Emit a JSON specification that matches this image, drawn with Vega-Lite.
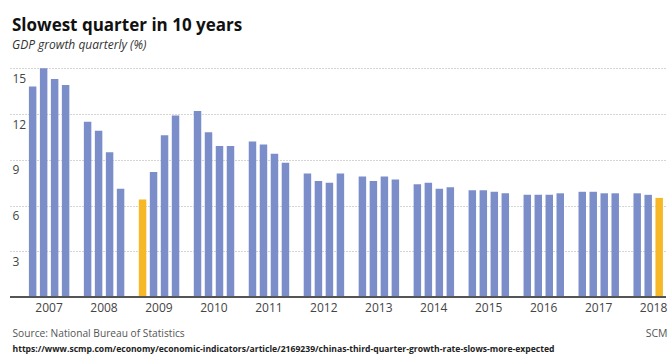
{
  "$schema": "https://vega.github.io/schema/vega-lite/v6.json",
  "autosize": {"type": "none"},
  "padding": {"left": 10, "top": 62, "right": 2, "bottom": 58},
  "width": 656,
  "height": 235,
  "background": "white",
  "config": {"view": {"stroke": null}, "font": "Open Sans"},
  "title": {
    "text": "Slowest quarter in 10 years",
    "subtitle": "GDP growth quarterly (%)",
    "anchor": "start",
    "frame": "group",
    "dx": 2,
    "offset": 10,
    "font": "Open Sans",
    "fontSize": 17,
    "fontWeight": "bold",
    "color": "#111",
    "subtitleFont": "Open Sans",
    "subtitleFontSize": 12,
    "subtitleFontStyle": "italic",
    "subtitleColor": "#333",
    "subtitlePadding": 5
  },
  "data": {
    "values": [
      {"q": "2007 Q1", "gdp": 13.8, "slowest": "no"},
      {"q": "2007 Q2", "gdp": 15.0, "slowest": "no"},
      {"q": "2007 Q3", "gdp": 14.3, "slowest": "no"},
      {"q": "2007 Q4", "gdp": 13.9, "slowest": "no"},
      {"q": "2008 Q1", "gdp": 11.5, "slowest": "no"},
      {"q": "2008 Q2", "gdp": 10.9, "slowest": "no"},
      {"q": "2008 Q3", "gdp": 9.5, "slowest": "no"},
      {"q": "2008 Q4", "gdp": 7.1, "slowest": "no"},
      {"q": "2009 Q1", "gdp": 6.4, "slowest": "yes"},
      {"q": "2009 Q2", "gdp": 8.2, "slowest": "no"},
      {"q": "2009 Q3", "gdp": 10.6, "slowest": "no"},
      {"q": "2009 Q4", "gdp": 11.9, "slowest": "no"},
      {"q": "2010 Q1", "gdp": 12.2, "slowest": "no"},
      {"q": "2010 Q2", "gdp": 10.8, "slowest": "no"},
      {"q": "2010 Q3", "gdp": 9.9, "slowest": "no"},
      {"q": "2010 Q4", "gdp": 9.9, "slowest": "no"},
      {"q": "2011 Q1", "gdp": 10.2, "slowest": "no"},
      {"q": "2011 Q2", "gdp": 10.0, "slowest": "no"},
      {"q": "2011 Q3", "gdp": 9.4, "slowest": "no"},
      {"q": "2011 Q4", "gdp": 8.8, "slowest": "no"},
      {"q": "2012 Q1", "gdp": 8.1, "slowest": "no"},
      {"q": "2012 Q2", "gdp": 7.6, "slowest": "no"},
      {"q": "2012 Q3", "gdp": 7.5, "slowest": "no"},
      {"q": "2012 Q4", "gdp": 8.1, "slowest": "no"},
      {"q": "2013 Q1", "gdp": 7.9, "slowest": "no"},
      {"q": "2013 Q2", "gdp": 7.6, "slowest": "no"},
      {"q": "2013 Q3", "gdp": 7.9, "slowest": "no"},
      {"q": "2013 Q4", "gdp": 7.7, "slowest": "no"},
      {"q": "2014 Q1", "gdp": 7.4, "slowest": "no"},
      {"q": "2014 Q2", "gdp": 7.5, "slowest": "no"},
      {"q": "2014 Q3", "gdp": 7.1, "slowest": "no"},
      {"q": "2014 Q4", "gdp": 7.2, "slowest": "no"},
      {"q": "2015 Q1", "gdp": 7.0, "slowest": "no"},
      {"q": "2015 Q2", "gdp": 7.0, "slowest": "no"},
      {"q": "2015 Q3", "gdp": 6.9, "slowest": "no"},
      {"q": "2015 Q4", "gdp": 6.8, "slowest": "no"},
      {"q": "2016 Q1", "gdp": 6.7, "slowest": "no"},
      {"q": "2016 Q2", "gdp": 6.7, "slowest": "no"},
      {"q": "2016 Q3", "gdp": 6.7, "slowest": "no"},
      {"q": "2016 Q4", "gdp": 6.8, "slowest": "no"},
      {"q": "2017 Q1", "gdp": 6.9, "slowest": "no"},
      {"q": "2017 Q2", "gdp": 6.9, "slowest": "no"},
      {"q": "2017 Q3", "gdp": 6.8, "slowest": "no"},
      {"q": "2017 Q4", "gdp": 6.8, "slowest": "no"},
      {"q": "2018 Q1", "gdp": 6.8, "slowest": "no"},
      {"q": "2018 Q2", "gdp": 6.7, "slowest": "no"},
      {"q": "2018 Q3", "gdp": 6.5, "slowest": "yes"}
    ]
  },
  "layer": [
    {
      "mark": {"type": "bar"},
      "encoding": {
        "x": {
          "field": "q",
          "type": "ordinal",
          "sort": null,
          "scale": {
            "domain": [
              "2007 Q1", "2007 Q2", "2007 Q3", "2007 Q4", "2007 -",
              "2008 Q1", "2008 Q2", "2008 Q3", "2008 Q4", "2008 -",
              "2009 Q1", "2009 Q2", "2009 Q3", "2009 Q4", "2009 -",
              "2010 Q1", "2010 Q2", "2010 Q3", "2010 Q4", "2010 -",
              "2011 Q1", "2011 Q2", "2011 Q3", "2011 Q4", "2011 -",
              "2012 Q1", "2012 Q2", "2012 Q3", "2012 Q4", "2012 -",
              "2013 Q1", "2013 Q2", "2013 Q3", "2013 Q4", "2013 -",
              "2014 Q1", "2014 Q2", "2014 Q3", "2014 Q4", "2014 -",
              "2015 Q1", "2015 Q2", "2015 Q3", "2015 Q4", "2015 -",
              "2016 Q1", "2016 Q2", "2016 Q3", "2016 Q4", "2016 -",
              "2017 Q1", "2017 Q2", "2017 Q3", "2017 Q4", "2017 -",
              "2018 Q1", "2018 Q2", "2018 Q3"
            ],
            "paddingInner": 0.32,
            "paddingOuter": 1.43,
            "align": 0.86,
            "round": false
          },
          "axis": {
            "values": ["2007 Q2", "2008 Q2", "2009 Q2", "2010 Q2", "2011 Q2", "2012 Q2", "2013 Q2", "2014 Q2", "2015 Q2", "2016 Q2", "2017 Q2", "2018 Q2"],
            "labelExpr": "slice(datum.value, 0, 4)",
            "labelOffset": 5.4,
            "labelAngle": 0,
            "labelOverlap": false,
            "labelFont": "Open Sans",
            "labelFontSize": 12,
            "labelColor": "#444",
            "labelPadding": 5,
            "ticks": false,
            "domain": false,
            "grid": false,
            "title": "Source: National Bureau of Statistics",
            "titleX": 2,
            "titleY": 39,
            "titleAlign": "left",
            "titleAnchor": "start",
            "titleBaseline": "alphabetic",
            "titleFont": "Open Sans",
            "titleFontSize": 10.2,
            "titleFontWeight": "normal",
            "titleColor": "#555"
          }
        },
        "y": {
          "field": "gdp",
          "type": "quantitative",
          "scale": {"domain": [0, 15.41], "nice": false, "zero": true},
          "axis": {
            "values": [3, 6, 9, 12, 15],
            "grid": true,
            "gridDash": [1, 2],
            "gridColor": "#aaa",
            "gridWidth": 1,
            "domain": false,
            "ticks": false,
            "labelAlign": "left",
            "labelBaseline": "top",
            "labelPadding": -2,
            "labelOffset": 5,
            "labelFont": "Open Sans",
            "labelFontSize": 12,
            "labelColor": "#444",
            "title": "https://www.scmp.com/economy/economic-indicators/article/2169239/chinas-third-quarter-growth-rate-slows-more-expected",
            "titleAngle": 0,
            "titleX": 2,
            "titleY": 289,
            "titleAlign": "left",
            "titleBaseline": "alphabetic",
            "titleFont": "Open Sans",
            "titleFontSize": 8.6,
            "titleFontWeight": "bold",
            "titleColor": "#222"
          }
        },
        "color": {
          "field": "slowest",
          "type": "nominal",
          "scale": {"domain": ["no", "yes"], "range": ["#7c8ec9", "#f6b826"]},
          "legend": null
        }
      }
    },
    {
      "mark": {"type": "rule", "color": "#555", "strokeWidth": 1.5},
      "encoding": {
        "y": {
          "datum": 0,
          "type": "quantitative",
          "axis": {
            "orient": "right",
            "labels": false,
            "ticks": false,
            "domain": false,
            "grid": false,
            "title": "SCM",
            "titleAngle": 0,
            "titleX": 1,
            "titleY": 274,
            "titleAlign": "right",
            "titleBaseline": "alphabetic",
            "titleFont": "Open Sans",
            "titleFontSize": 10.5,
            "titleFontWeight": "normal",
            "titleColor": "#555"
          }
        }
      }
    }
  ],
  "resolve": {"axis": {"y": "independent"}}
}
